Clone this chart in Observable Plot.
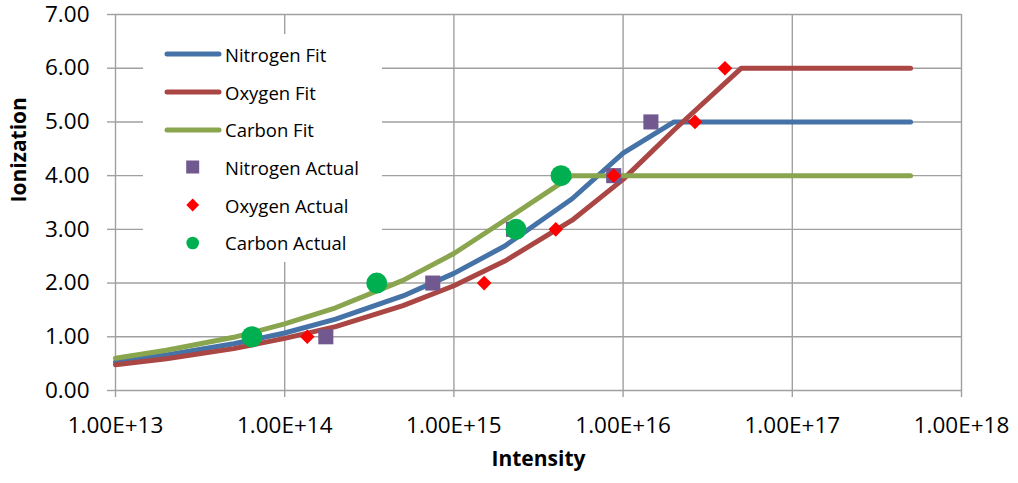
<!DOCTYPE html>
<html><head><meta charset="utf-8">
<script src="https://cdn.jsdelivr.net/npm/d3@7"></script>
<script src="https://cdn.jsdelivr.net/npm/@observablehq/plot@0.6"></script>
<style>
body{margin:0;background:#fff;font-family:"Open Sans",sans-serif;}
#wrap{position:relative;width:1018px;height:483px;}
#legend{position:absolute;left:143px;top:34px;width:239px;height:228px;background:#fff;}
.item{position:absolute;left:0;height:26px;display:flex;align-items:center;font-size:18.5px;color:#000;white-space:nowrap;}
.item svg{display:block;}
</style></head><body><div id="wrap"><div id="legend"></div></div>
<script>
// Fit curves (x = intensity)
const fitIntensity = [1e13, 2e13, 5e13, 1e14, 2e14, 5e14, 1e15, 2e15, 5e15, 1e16, 2e16, 5e16, 1e17, 2e17, 5e17];
const nitrogenFit = [0.53, 0.66, 0.87, 1.07, 1.33, 1.76, 2.18, 2.69, 3.57, 4.42, 5, 5, 5, 5, 5];
const oxygenFit   = [0.48, 0.59, 0.78, 0.97, 1.19, 1.58, 1.95, 2.41, 3.17, 3.93, 4.85, 6, 6, 6, 6];
const carbonFit   = [0.60, 0.75, 0.99, 1.24, 1.54, 2.05, 2.55, 3.17, 4, 4, 4, 4, 4, 4, 4];

// Measured points
const nitrogenActualIntensity = [1.75e14, 7.5e14, 2.25e15, 8.8e15, 1.46e16];
const nitrogenActualIon = [1, 2, 3, 4, 5];
const oxygenActualIntensity = [1.36e14, 1.51e15, 4.0e15, 8.8e15, 2.66e16, 4.0e16];
const oxygenActualIon = [1, 2, 3, 4, 5, 6];
const carbonActualIntensity = [6.4e13, 3.5e14, 2.33e15, 4.3e15];
const carbonActualIon = [1, 2, 3, 4];

// Ticks
const xTicks = [1e13, 1e14, 1e15, 1e16, 1e17, 1e18];
const xTickLabels = ["1.00E+13", "1.00E+14", "1.00E+15", "1.00E+16", "1.00E+17", "1.00E+18"];
const yTicks = [0, 1, 2, 3, 4, 5, 6, 7];
const yTickLabels = ["0.00", "1.00", "2.00", "3.00", "4.00", "5.00", "6.00", "7.00"];

const seriesNames = ["Nitrogen Fit", "Oxygen Fit", "Carbon Fit", "Nitrogen Actual", "Oxygen Actual", "Carbon Actual"];
const colors = {
  "Nitrogen Fit": "#4572A7", "Oxygen Fit": "#AA4643", "Carbon Fit": "#89A54E",
  "Nitrogen Actual": "#71588F", "Oxygen Actual": "#FF0000", "Carbon Actual": "#00B050"
};

const fitRows = (vals) => fitIntensity.map((x, i) => ({x, y: vals[i]}));
const ptRows = (xs, ys) => xs.map((x, i) => ({x, y: ys[i]}));

const gridColor = "#A0A0A0";
const lineOpts = (name) => ({x: "x", y: "y", stroke: colors[name], strokeWidth: 5, strokeLinecap: "round", strokeLinejoin: "round"});

const chart = Plot.plot({
  width: 1018, height: 483,
  marginLeft: 115, marginRight: 57, marginTop: 14, marginBottom: 93,
  style: {fontFamily: "'Open Sans', sans-serif", background: "transparent"},
  x: {type: "log", domain: [1e13, 1e18]},
  y: {domain: [0, 7]},
  marks: [
    Plot.ruleY(yTicks, {stroke: gridColor, strokeWidth: 1.4}),
    Plot.ruleX(xTicks, {stroke: gridColor, strokeWidth: 1.4}),
    Plot.axisY(yTicks, {tickSize: 8, tickPadding: 18, stroke: gridColor, strokeWidth: 1.4, fill: "#000", fontSize: 22.5,
      tickFormat: d => yTickLabels[yTicks.indexOf(d)], label: null}),
    Plot.axisX(xTicks, {tickSize: 7, tickPadding: 20, stroke: gridColor, strokeWidth: 1.4, fill: "#000", fontSize: 22.5,
      tickFormat: d => xTickLabels[xTicks.indexOf(d)], label: null}),
    Plot.text(["Intensity"], {frameAnchor: "bottom", dy: 75, fontSize: 21, fontWeight: "bold", fill: "#000"}),
    Plot.text(["Ionization"], {frameAnchor: "left", dx: -96, rotate: -90, fontSize: 21, fontWeight: "bold", fill: "#000"}),
    Plot.line(fitRows(nitrogenFit), lineOpts("Nitrogen Fit")),
    Plot.line(fitRows(oxygenFit), lineOpts("Oxygen Fit")),
    Plot.line(fitRows(carbonFit), lineOpts("Carbon Fit")),
    Plot.dot(ptRows(nitrogenActualIntensity, nitrogenActualIon), {x: "x", y: "y", symbol: "square", r: 8.5, fill: colors["Nitrogen Actual"], stroke: "none"}),
    Plot.dot(ptRows(oxygenActualIntensity, oxygenActualIon), {x: "x", y: "y", symbol: "diamond2", r: 6.6, fill: colors["Oxygen Actual"], stroke: "none"}),
    Plot.dot(ptRows(carbonActualIntensity, carbonActualIon), {x: "x", y: "y", symbol: "circle", r: 10.5, fill: colors["Carbon Actual"], stroke: "none"})
  ]
});
const wrap = document.getElementById("wrap");
wrap.insertBefore(chart, wrap.firstChild);

// Legend
const legend = document.getElementById("legend");
const ns = "http://www.w3.org/2000/svg";
seriesNames.forEach((name, i) => {
  const item = document.createElement("div");
  item.className = "item";
  item.style.top = (20.3 + i * 37.7 - 13) + "px";
  const svg = document.createElementNS(ns, "svg");
  svg.setAttribute("width", 82); svg.setAttribute("height", 26);
  if (i < 3) {
    const l = document.createElementNS(ns, "line");
    l.setAttribute("x1", 24); l.setAttribute("x2", 76); l.setAttribute("y1", 13); l.setAttribute("y2", 13);
    l.setAttribute("stroke", colors[name]); l.setAttribute("stroke-width", 5); l.setAttribute("stroke-linecap", "round");
    svg.appendChild(l);
  } else {
    const sym = i === 3 ? d3.symbolSquare : i === 4 ? d3.symbolDiamond2 : d3.symbolCircle;
    const size = i === 3 ? 13 * 13 : i === 4 ? 105 : Math.PI * 6.3 * 6.3;
    const p = document.createElementNS(ns, "path");
    p.setAttribute("d", d3.symbol(sym, size)());
    p.setAttribute("transform", "translate(49.7,13)");
    p.setAttribute("fill", colors[name]);
    svg.appendChild(p);
  }
  item.appendChild(svg);
  const t = document.createElement("span");
  t.textContent = name;
  item.appendChild(t);
  legend.appendChild(item);
});
</script>
</body></html>
